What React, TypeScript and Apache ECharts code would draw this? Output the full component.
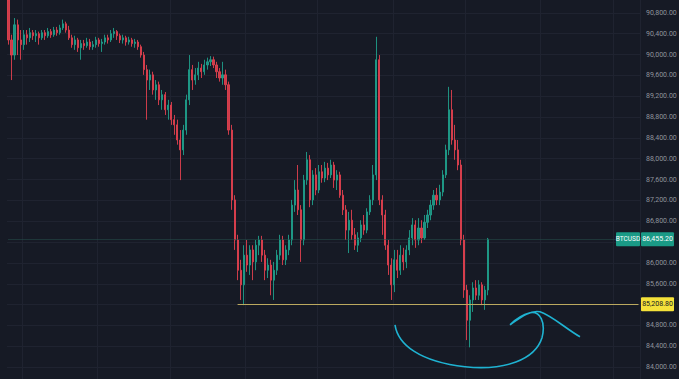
import React, { useEffect, useRef } from "react";
import * as echarts from "echarts";

const SYMBOL = "BTCUSD";
const LAST_PRICE = 86455.2;
const LEVEL_PRICE = 85208.8;
const LEVEL_START_INDEX = 76;
const Y_MIN = 83600;
const Y_MAX = 91200;
const Y_STEP = 400;
const LABEL_MIN = 84000;
const LABEL_MAX = 90800;
const HIDDEN_TICKS = [86400, 85200];
const CATEGORY_COUNT = 210;
const VERTICAL_GRID_INDEXES = [5, 30, 54, 79, 103, 128, 152, 177, 201];

// [open, close, low, high]
const CANDLES: number[][] = [
  [91050, 90280, 90190, 91150],
  [90280, 89990, 89510, 90380],
  [89990, 90570, 89900, 90700],
  [90570, 90280, 89990, 90670],
  [90280, 90190, 89900, 90470],
  [90190, 90380, 90090, 90470],
  [90380, 90320, 90190, 90470],
  [90320, 90420, 90240, 90510],
  [90420, 90360, 90280, 90470],
  [90360, 90400, 90240, 90470],
  [90400, 90320, 90190, 90440],
  [90320, 90420, 90280, 90470],
  [90420, 90360, 90280, 90470],
  [90360, 90440, 90320, 90510],
  [90440, 90380, 90320, 90490],
  [90380, 90470, 90340, 90530],
  [90470, 90420, 90360, 90530],
  [90420, 90510, 90380, 90570],
  [90510, 90590, 90470, 90670],
  [90590, 90470, 90420, 90630],
  [90470, 90320, 90280, 90550],
  [90320, 90190, 90130, 90380],
  [90190, 90280, 90090, 90360],
  [90280, 90130, 90050, 90320],
  [90130, 90210, 89900, 90280],
  [90210, 90170, 90090, 90280],
  [90170, 90240, 90130, 90320],
  [90240, 90150, 90090, 90300],
  [90150, 90190, 90090, 90260],
  [90190, 90280, 90130, 90340],
  [90280, 90210, 90150, 90320],
  [90210, 90240, 90050, 90300],
  [90240, 90320, 90190, 90380],
  [90320, 90280, 90210, 90380],
  [90280, 90400, 90240, 90470],
  [90400, 90440, 90320, 90510],
  [90440, 90360, 90280, 90470],
  [90360, 90280, 90220, 90400],
  [90280, 90320, 90210, 90380],
  [90320, 90240, 90170, 90360],
  [90240, 90280, 90190, 90340],
  [90280, 90210, 90150, 90320],
  [90210, 90240, 90130, 90300],
  [90240, 90150, 90090, 90280],
  [90150, 89990, 89940, 90190],
  [89990, 89710, 89610, 90050],
  [89710, 89510, 88750, 89800],
  [89510, 89610, 89320, 89710],
  [89610, 89320, 89230, 89670],
  [89320, 89420, 89130, 89510],
  [89420, 89130, 89030, 89480],
  [89130, 89230, 88940, 89320],
  [89230, 88940, 88840, 89280],
  [88940, 89030, 88750, 89130],
  [89030, 88750, 88650, 89090],
  [88750, 88650, 88460, 88840],
  [88650, 88360, 88270, 88750],
  [88360, 88170, 87590, 88550],
  [88170, 88550, 88070, 88650],
  [88550, 89130, 88460, 89230],
  [89130, 89710, 89030, 89990],
  [89710, 89510, 89320, 89800],
  [89510, 89610, 89420, 89740],
  [89610, 89740, 89510, 89860],
  [89740, 89670, 89550, 89820],
  [89670, 89800, 89610, 89900],
  [89800, 89860, 89710, 89940],
  [89860, 89900, 89780, 89970],
  [89900, 89800, 89740, 89960],
  [89800, 89670, 89550, 89860],
  [89670, 89550, 89480, 89740],
  [89550, 89610, 89420, 89860],
  [89610, 89420, 89320, 89710],
  [89420, 88550, 88460, 89480],
  [88550, 87210, 87020, 88650],
  [87210, 86440, 86250, 87300],
  [86440, 85860, 85670, 86540],
  [85860, 85580, 85290, 86060],
  [85580, 86150, 85190, 86340],
  [86150, 85960, 85830, 86440],
  [85960, 86250, 85770, 86340],
  [86250, 86020, 85670, 86340],
  [86020, 86340, 85860, 86440],
  [86340, 86440, 86150, 86520],
  [86440, 86150, 86020, 86520],
  [86150, 85860, 85670, 86250],
  [85860, 85960, 85710, 86090],
  [85960, 85670, 85380, 86060],
  [85670, 85860, 85290, 86020],
  [85860, 86150, 85770, 86250],
  [86150, 86440, 86060, 86540],
  [86440, 86060, 85960, 86520],
  [86060, 86250, 85960, 86340],
  [86250, 86440, 86150, 86540],
  [86440, 87110, 86340, 87210],
  [87110, 87400, 86980, 87590],
  [87400, 87020, 86920, 87880],
  [87020, 86440, 86020, 87110],
  [86440, 87590, 86340, 87690],
  [87590, 87980, 87500, 88130],
  [87980, 87210, 87070, 88070],
  [87210, 87690, 87110, 87780],
  [87690, 87400, 87300, 87820],
  [87400, 87750, 87340, 87880],
  [87750, 87630, 87540, 87880],
  [87630, 87820, 87550, 87940],
  [87820, 87690, 87590, 87920],
  [87690, 87880, 87630, 87980],
  [87880, 87590, 87440, 87940],
  [87590, 87690, 87400, 87780],
  [87690, 87300, 87250, 87750],
  [87300, 87020, 86920, 87400],
  [87020, 86630, 86440, 87110],
  [86630, 86820, 86190, 86980],
  [86820, 86540, 86440, 87020],
  [86540, 86340, 86250, 86670],
  [86340, 86480, 86210, 86590],
  [86480, 86730, 86400, 86820],
  [86730, 86630, 86540, 86920],
  [86630, 86980, 86570, 87050],
  [86980, 87210, 86920, 87300],
  [87210, 87690, 87110, 87880],
  [87690, 89900, 87590, 90340],
  [89900, 87210, 87110, 89990],
  [87210, 86920, 86540, 87300],
  [86920, 86340, 86250, 87020],
  [86340, 85960, 85770, 86440],
  [85960, 85580, 85290, 86090],
  [85580, 86060, 85440, 86250],
  [86060, 85860, 85710, 86250],
  [85860, 86150, 85770, 86340],
  [86150, 86020, 85860, 86290],
  [86020, 86250, 85900, 86340],
  [86250, 86480, 86150, 86630],
  [86480, 86730, 86340, 86860],
  [86730, 86440, 86290, 86820],
  [86440, 86670, 86340, 86860],
  [86670, 86480, 86380, 86820],
  [86480, 86780, 86440, 86920],
  [86780, 86920, 86670, 87020],
  [86920, 87110, 86820, 87210],
  [87110, 87300, 87020, 87400],
  [87300, 87210, 87110, 87440],
  [87210, 87360, 87110, 87500],
  [87360, 87690, 87280, 87780],
  [87690, 88170, 87630, 88270],
  [88170, 88940, 88070, 89380],
  [88940, 88360, 88270, 89320],
  [88360, 88170, 87980, 88650],
  [88170, 87880, 87780, 88360],
  [87880, 86440, 86340, 87980],
  [86440, 85480, 85330, 86540],
  [85480, 84900, 84520, 85580],
  [84900, 85290, 84380, 85380],
  [85290, 85520, 85060, 85630],
  [85520, 85380, 85290, 85670],
  [85380, 85580, 85290, 85670],
  [85580, 85290, 85190, 85630],
  [85290, 85480, 85100, 85560],
  [85480, 86455.2, 85380, 86480],
];

const CATEGORIES = Array.from({ length: CATEGORY_COUNT }, (_, i) => String(i));

const SKETCH_PATH =
  "M395,325 C398,345 420,362 465,367 C505,371 535,360 542,338 C546,322 540,311 530,313 C522,315 515,320 510,325 M510,325 C520,318 530,310 540,312 C552,316 566,329 580,337";

const fmt = (v: number) =>
  v.toLocaleString("en-US", { minimumFractionDigits: 2, maximumFractionDigits: 2 });

// The y range 83,600–91,200 is taller than the visible window; the chart div is
// shifted so that 90,800 sits at y=13 and 84,000 at y=367 like the reference.
const CANVAS_HEIGHT = 395.6;
const CANVAS_SHIFT = 7.8;

let registered = false;

export default function App() {
  const ref = useRef<HTMLDivElement>(null);

  useEffect(() => {
    document.body.style.margin = "0";
    if (!registered) {
      echarts.graphic.registerShape("logo", echarts.graphic.extendPath(SKETCH_PATH, {}) as any);
      registered = true;
    }
    const chart = echarts.init(ref.current!, null, { renderer: "svg" });
    const UP = "#1f9e8b";
    const DOWN = "#e0404f";
    const levelStyle = { color: "#bba95f", width: 1, type: "solid" as const };
    const priceStyle = { color: "#27534f", width: 1, type: "dotted" as const };
    chart.setOption({
      animation: false,
      backgroundColor: "#161a25",
      grid: { left: 7, right: 39, top: 0, bottom: 0, containLabel: false, outerBoundsMode: "none" },
      xAxis: {
        type: "category",
        data: CATEGORIES,
        boundaryGap: true,
        axisLine: { show: false },
        axisTick: { show: false },
        axisLabel: { show: false },
        splitLine: {
          show: true,
          interval: (i: number) => VERTICAL_GRID_INDEXES.includes(i),
          lineStyle: { color: "#1f2330", width: 1 },
        },
      },
      yAxis: {
        type: "value",
        position: "right",
        min: Y_MIN,
        max: Y_MAX,
        interval: Y_STEP,
        axisLine: { show: false },
        axisTick: { show: false },
        splitLine: { show: true, lineStyle: { color: "#1f2330", width: 1 } },
        axisLabel: {
          color: "#8f939c",
          fontSize: 7,
          fontFamily: "Roboto, sans-serif",
          margin: 6,
          formatter: (v: number) =>
            HIDDEN_TICKS.includes(v) || v < LABEL_MIN || v > LABEL_MAX ? "" : fmt(v),
        },
      },
      series: [
        {
          type: "candlestick",
          data: CANDLES,
          barWidth: 1.6,
          itemStyle: {
            color: UP,
            color0: DOWN,
            borderColor: UP,
            borderColor0: DOWN,
            borderWidth: 1,
            opacity: 0.9,
          },
          markLine: {
            silent: true,
            symbol: ["none", "none"],
            label: { show: false },
            data: [
              [
                { coord: [LEVEL_START_INDEX, LEVEL_PRICE], lineStyle: levelStyle },
                { coord: [CATEGORY_COUNT - 1, LEVEL_PRICE], lineStyle: levelStyle },
              ],
              [
                { coord: [0, LAST_PRICE], lineStyle: priceStyle },
                { coord: [CATEGORY_COUNT - 1, LAST_PRICE], lineStyle: priceStyle },
              ],
            ],
          },
        },
      ],
    });

    const yCur = chart.convertToPixel({ yAxisIndex: 0 }, LAST_PRICE) as number;
    const yLvl = chart.convertToPixel({ yAxisIndex: 0 }, LEVEL_PRICE) as number;
    const tagFont = "Roboto, sans-serif";
    chart.setOption({
      graphic: [
        {
          type: "logo",
          x: 0,
          y: CANVAS_SHIFT,
          style: { fill: "none", stroke: "#1fb3d2", lineWidth: 1.6 },
          z: 100,
        },
        {
          type: "rect",
          shape: { x: 616, y: yCur - 7, width: 24, height: 14, r: 1 },
          style: { fill: "#1a9a86" },
          z: 100,
        },
        {
          type: "text",
          x: 628,
          y: yCur,
          style: { text: SYMBOL, fill: "#ffffff", fontSize: 6.5, fontFamily: tagFont, align: "center", verticalAlign: "middle" },
          z: 101,
        },
        {
          type: "rect",
          shape: { x: 641, y: yCur - 7, width: 33, height: 14, r: 1 },
          style: { fill: "#1a9a86" },
          z: 100,
        },
        {
          type: "text",
          x: 657.5,
          y: yCur,
          style: { text: fmt(LAST_PRICE), fill: "#ffffff", fontSize: 7, fontFamily: tagFont, align: "center", verticalAlign: "middle" },
          z: 101,
        },
        {
          type: "rect",
          shape: { x: 641, y: yLvl - 7, width: 33, height: 14, r: 1 },
          style: { fill: "#f5e23a" },
          z: 100,
        },
        {
          type: "text",
          x: 657.5,
          y: yLvl,
          style: { text: fmt(LEVEL_PRICE), fill: "#131722", fontSize: 7, fontFamily: tagFont, align: "center", verticalAlign: "middle" },
          z: 101,
        },
      ],
    });

    return () => chart.dispose();
  }, []);

  return (
    <div style={{ width: 679, height: 379, overflow: "hidden", position: "relative", background: "#161a25" }}>
      <div ref={ref} style={{ position: "absolute", left: 0, top: -CANVAS_SHIFT, width: 679, height: CANVAS_HEIGHT }} />
    </div>
  );
}
